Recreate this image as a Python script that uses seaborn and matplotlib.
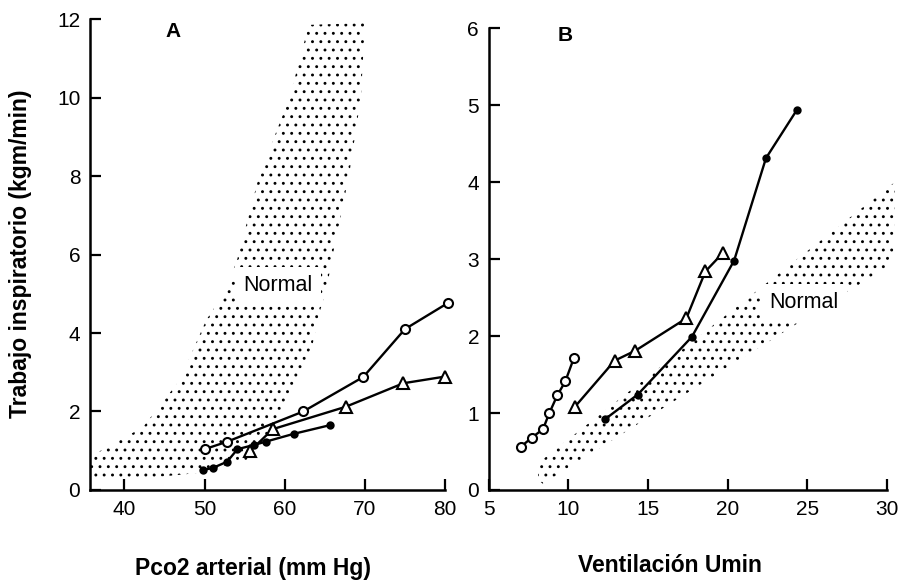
import matplotlib
matplotlib.use("Agg")
import matplotlib.pyplot as plt
import seaborn as sns

# panel A: inspiratory work vs arterial PCO2
a_circ_x = [50.0, 52.8, 62.3, 69.8, 75.0, 80.4]
a_circ_y = [1.04, 1.23, 2.0, 2.88, 4.10, 4.77]
a_tri_x = [55.7, 58.5, 67.6, 74.8, 80.0]
a_tri_y = [1.0, 1.55, 2.12, 2.72, 2.89]
a_dot_x = [49.8, 51.0, 52.8, 54.1, 56.2, 57.6, 61.1, 65.6]
a_dot_y = [0.51, 0.56, 0.72, 1.04, 1.15, 1.23, 1.43, 1.65]
a_band_x = [35.7, 35.7, 42.3, 46.9, 50.2, 52.7, 54.1, 56.8, 60.6, 63.0, 70.0,
            69.5, 68.0, 66.0, 65.2, 64.3, 63.5, 61.8, 59.7, 57.7, 55.2, 49.0, 40.0]
a_band_y = [0.25, 0.85, 1.6, 2.8, 4.33, 5.1, 5.9, 8.0, 10.0, 11.85, 11.9,
            10.0, 8.0, 6.0, 5.1, 4.5, 3.74, 2.9, 2.04, 1.35, 0.76, 0.43, 0.25]

# panel B: inspiratory work vs ventilation
b_circ_x = [7.0, 7.7, 8.4, 8.8, 9.3, 9.8, 10.35]
b_circ_y = [0.56, 0.68, 0.79, 1.0, 1.23, 1.41, 1.72]
b_tri_x = [10.4, 12.9, 14.2, 17.4, 18.6, 19.7]
b_tri_y = [1.08, 1.68, 1.81, 2.23, 2.84, 3.08]
b_dot_x = [12.3, 14.35, 17.75, 20.4, 22.4, 24.35]
b_dot_y = [0.92, 1.24, 1.99, 2.98, 4.31, 4.94]
b_band_x = [8.1, 8.1, 30.5, 30.4, 8.4]
b_band_y = [0.13, 0.35, 4.0, 2.95, 0.08]

sns.set_style("ticks")
plt.rcParams["font.family"] = ["Liberation Sans", "DejaVu Sans"]
plt.rcParams["hatch.linewidth"] = 0.9
plt.rcParams["text.color"] = "black"
plt.rcParams["xtick.color"] = "black"
plt.rcParams["ytick.color"] = "black"
plt.rcParams["axes.edgecolor"] = "black"

fig = plt.figure(figsize=(9.12, 5.85), dpi=100)
ax_a = fig.add_axes([0.0987, 0.1624, 0.3893, 0.8051])
ax_b = fig.add_axes([0.536, 0.1624, 0.4366, 0.7896])


def draw_series(ax, xs, ys, marker, ms, face):
    sns.lineplot(x=xs, y=ys, ax=ax, sort=False, color="black", linewidth=1.7,
                 marker=marker, markersize=ms, markerfacecolor=face,
                 markeredgecolor="black", markeredgewidth=1.5, zorder=3,
                 clip_on=False)


def style_axis(ax):
    sns.despine(ax=ax)
    for side in ["left", "bottom"]:
        ax.spines[side].set_linewidth(1.8)
    ax.tick_params(direction="in", length=8, width=1.6, labelsize=15, pad=7)


# ---- panel A
ax_a.fill(a_band_x, a_band_y, facecolor="none", edgecolor="black",
          linewidth=0, hatch="..", zorder=1)
draw_series(ax_a, a_circ_x, a_circ_y, "o", 6.5, "white")
draw_series(ax_a, a_tri_x, a_tri_y, "^", 8, "white")
draw_series(ax_a, a_dot_x, a_dot_y, "o", 4.5, "black")
ax_a.set_xlim(35.7, 80)
ax_a.set_ylim(0, 12)
ax_a.set_xticks([40, 50, 60, 70, 80])
ax_a.set_yticks([0, 2, 4, 6, 8, 10, 12])
ax_a.text(59.2, 5.2, "Normal", fontsize=15.5, ha="center", va="center", zorder=2,
          bbox=dict(facecolor="white", edgecolor="none", pad=6))
ax_a.text(46.0, 11.67, "A", fontsize=15, fontweight="bold", ha="center", va="center")
style_axis(ax_a)

# ---- panel B
ax_b.fill(b_band_x, b_band_y, facecolor="none", edgecolor="black",
          linewidth=0, hatch="..", zorder=1, clip_on=False)
draw_series(ax_b, b_circ_x, b_circ_y, "o", 6.5, "white")
draw_series(ax_b, b_tri_x, b_tri_y, "^", 8, "white")
draw_series(ax_b, b_dot_x, b_dot_y, "o", 4.5, "black")
ax_b.set_xlim(5, 30)
ax_b.set_ylim(0, 6)
ax_b.set_xticks([5, 10, 15, 20, 25, 30])
ax_b.set_yticks([0, 1, 2, 3, 4, 5, 6])
ax_b.text(24.8, 2.43, "Normal", fontsize=15.5, ha="center", va="center", zorder=2,
          bbox=dict(facecolor="white", edgecolor="none", pad=6))
ax_b.text(9.8, 5.9, "B", fontsize=15, fontweight="bold", ha="center", va="center")
style_axis(ax_b)

fig.text(0.022, 0.566, "Trabajo inspiratorio (kgm/min)", rotation=90,
         fontsize=16.5, fontweight="bold", ha="center", va="center")
fig.text(0.277, 0.029, "Pco2 arterial (mm Hg)", fontsize=16.5, fontweight="bold",
         ha="center", va="center")
fig.text(0.735, 0.034, "Ventilación Umin", fontsize=16.5, fontweight="bold",
         ha="center", va="center")

fig.savefig("out.png", dpi=100)
